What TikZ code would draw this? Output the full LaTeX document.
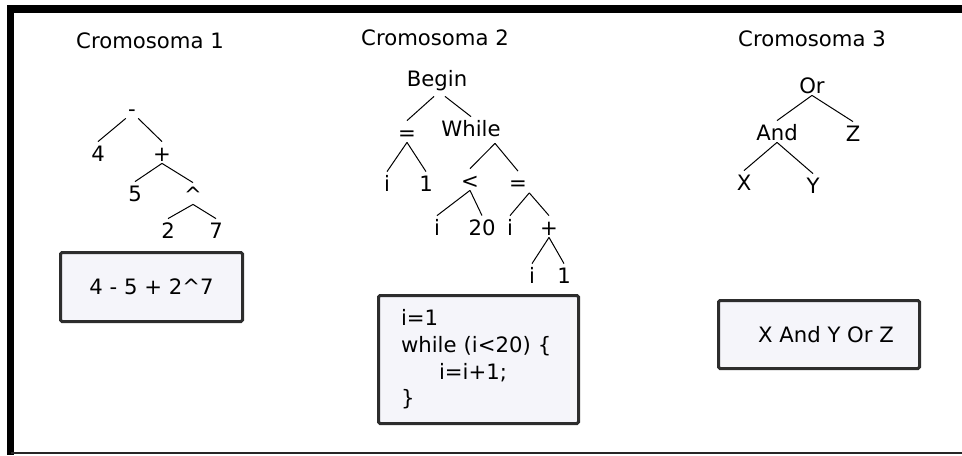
\documentclass[tikz,border=0pt]{standalone}
\usepackage{fontspec}
\setmainfont{DejaVu Sans}
\definecolor{boxfill}{RGB}{245,245,250}
\definecolor{boxline}{RGB}{45,45,45}
\tikzset{
    term/.style={anchor=base,inner sep=1pt,text height=8.5pt,text depth=0pt},
    title/.style={anchor=base,inner sep=0pt},
    exprbox/.style={draw=boxline,fill=boxfill,line width=1.5pt,rounded corners=0.8pt,inner sep=0pt},
    branch/.style={line width=0.5pt}
}
\begin{document}
\begin{tikzpicture}[x=0.5pt,y=-0.5pt,font=\fontsize{10.6}{13.3}\selectfont]
        \useasboundingbox (0,0) rectangle (962,455);
        \draw [line width=3.75pt] (962,9) -- (10.5,9) -- (10.5,455);
        \draw [line width=0.75pt,color=black!85] (10.5,453) -- (962,453);

        \foreach \i/\x/\y in {1/150/48,2/435/45,3/812/46} {
                \node [title] (title\i) at (\x,\y) {Cromosoma \i};
            }

        \foreach \name/\x/\y/\txt in {m/132/116/-,a/98/161/4,p/162/161/+,b/135/201/5,c/193/202/\textasciicircum,d/168/238/2,e/216/238/7} {
                \node [term] (A\name) at (\x,\y) {\txt};
            }
        \foreach \from/\to in {Am.south west/Aa.north,Am.south east/Ap.north,Ap.south/Ab.north,Ap.south/Ac.north,Ac.south/Ad.north,Ac.south/Ae.north} {
                \draw [branch] (\from) -- (\to);
            }

        \node [term,text depth=4pt] (Bbegin) at (437,86) {Begin};
        \foreach \name/\x/\y/\txt in {eq/407/140/=,while/471/136/While,i/387/191/i,one/426/191/1,lt/470/188/<,set/518/190.5/=,j/437/235/i,lim/482/235/20,k/510/235/i,sum/549/235/+,l/532/283/i,inc/564/283/1} {
                \node [term] (B\name) at (\x,\y) {\txt};
            }
        \coordinate (Bleft) at ([xshift=-1.5pt]Bbegin.south);
        \coordinate (Bright) at ([xshift=4pt]Bbegin.south);
        \coordinate (Bloop) at ([xshift=-4pt,yshift=-2.5pt]Bwhile.south east);
        \foreach \from/\to in {Bleft/Beq.north,Bright/Bwhile.north,Beq.south/Bi.north,Beq.south/Bone.north,Bloop/Blt.north,Bloop/Bset.north,Blt.south/Bj.north,Blt.south/Blim.north,Bset.south east/Bk.north,Bset.south east/Bsum.north,Bsum.south/Bl.north,Bsum.south/Binc.north} {
                \draw [branch] (\from) -- (\to);
            }

        \foreach \name/\x/\y/\txt in {or/812/93/Or,and/777/140/And,z/853/141/Z,x/744/190/X,y/813/193/Y} {
                \node [term] (C\name) at (\x,\y) {\txt};
            }
        \foreach \from/\to in {Cor.south/Cand.north,Cor.south/Cz.north,Cand.south/Cx.north,Cand.south/Cy.north} {
                \draw [branch] (\from) -- (\to);
            }

        \node [exprbox,minimum width=91pt,minimum height=34.5pt] (expr1) at (151.5,287) {4 - 5 + 2\textasciicircum 7};
        \node [exprbox,minimum width=100pt,minimum height=64pt,text width=77.5pt,inner xsep=11.25pt,align=left] (expr2) at (478.5,359.5) {i=1\\while (i<20) \{\\\hspace*{19pt}i=i+1;\\\}};
        \node [exprbox,minimum width=100.5pt,minimum height=34pt] (expr3) at (819,334.5) {\hspace*{7pt}X And Y Or Z};
    \end{tikzpicture}
\end{document}
